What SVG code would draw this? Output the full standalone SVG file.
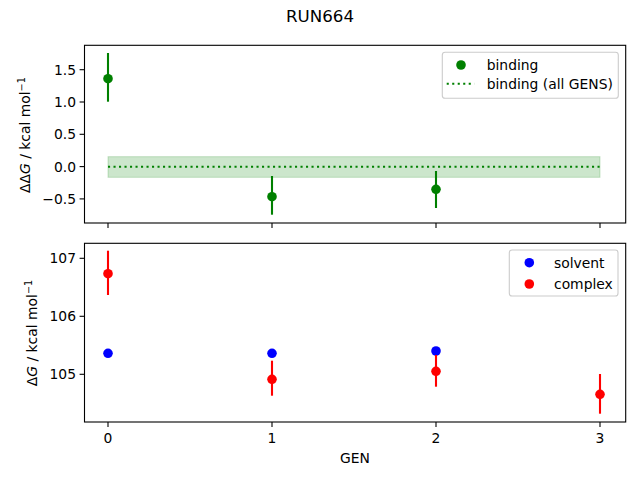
<svg xmlns="http://www.w3.org/2000/svg" width="640" height="480" viewBox="0 0 640 480">
<style>
text{font-family:"DejaVu Sans","Liberation Sans",sans-serif;font-size:13.89px;fill:#000}
.spine{fill:none;stroke:#000;stroke-width:1.1}
.tick{stroke:#000;stroke-width:1.1}
.yt{text-anchor:end}
.xt{text-anchor:middle}
.eg{stroke:#008000;stroke-width:2.1}
.er{stroke:#ff0000;stroke-width:2.1}
.leg{fill:#fff;fill-opacity:0.8;stroke:#cccccc;stroke-width:1.1}
circle{r:4.8px}
</style>
<rect width="640" height="480" fill="#fff"/>
<text x="320" y="22" text-anchor="middle" style="font-size:16.67px">RUN664</text>

<g id="top-axes">
  <rect x="108" y="156.7" width="492" height="20.6" fill="#008000" fill-opacity="0.2" stroke="#008000" stroke-opacity="0.2" stroke-width="1"/>
  <line x1="108" y1="166.7" x2="600" y2="166.7" stroke="#008000" stroke-width="2.1" stroke-dasharray="2.1,3.4"/>
  <g id="binding-points">
    <line class="eg" x1="108" y1="53" x2="108" y2="101.7"/>
    <circle cx="108" cy="78.7" r="4.8" fill="#008000"/>
    <line class="eg" x1="272" y1="176" x2="272" y2="214.7"/>
    <circle cx="272" cy="196.7" r="4.8" fill="#008000"/>
    <line class="eg" x1="436" y1="171" x2="436" y2="208"/>
    <circle cx="436" cy="189.3" r="4.8" fill="#008000"/>
  </g>
  <rect class="spine" x="84.5" y="45.3" width="541.2" height="177.7"/>
  <g class="tick">
    <line x1="84.5" y1="69.7" x2="79.6" y2="69.7"/>
    <line x1="84.5" y1="102" x2="79.6" y2="102"/>
    <line x1="84.5" y1="134.3" x2="79.6" y2="134.3"/>
    <line x1="84.5" y1="166.6" x2="79.6" y2="166.6"/>
    <line x1="84.5" y1="198.9" x2="79.6" y2="198.9"/>
    <line x1="108" y1="223" x2="108" y2="227.9"/>
    <line x1="272" y1="223" x2="272" y2="227.9"/>
    <line x1="436" y1="223" x2="436" y2="227.9"/>
    <line x1="600" y1="223" x2="600" y2="227.9"/>
  </g>
  <text class="yt" x="76" y="74.7">1.5</text>
  <text class="yt" x="76" y="107">1.0</text>
  <text class="yt" x="76" y="139.3">0.5</text>
  <text class="yt" x="76" y="171.6">0.0</text>
  <text class="yt" x="76" y="203.9">−0.5</text>
  <text transform="translate(30,135) rotate(-90)" text-anchor="middle">ΔΔ<tspan font-style="italic">G</tspan> / kcal mol<tspan dy="-5" style="font-size:9.7px">−1</tspan></text>
  <g id="top-legend">
    <rect class="leg" x="442.3" y="52.3" width="176" height="46" rx="2.8"/>
    <circle cx="461" cy="65" r="4.8" fill="#008000"/>
    <line x1="446.7" y1="83.7" x2="474.3" y2="83.7" stroke="#008000" stroke-width="2.1" stroke-dasharray="2.1,3.4"/>
    <text x="486.7" y="69.9">binding</text>
    <text x="486.7" y="88.7">binding (all GENS)</text>
  </g>
</g>

<g id="bottom-axes">
  <g id="solvent-points">
    <circle cx="108" cy="353.3" r="4.8" fill="#0000ff"/>
    <circle cx="272" cy="353.3" r="4.8" fill="#0000ff"/>
    <circle cx="436" cy="351" r="4.8" fill="#0000ff"/>
  </g>
  <g id="complex-points">
    <line class="er" x1="108" y1="250.7" x2="108" y2="295"/>
    <circle cx="108" cy="273.7" r="4.8" fill="#ff0000"/>
    <line class="er" x1="272" y1="360.7" x2="272" y2="395.7"/>
    <circle cx="272" cy="379.3" r="4.8" fill="#ff0000"/>
    <line class="er" x1="436" y1="355" x2="436" y2="386.7"/>
    <circle cx="436" cy="371.3" r="4.8" fill="#ff0000"/>
    <line class="er" x1="600" y1="374" x2="600" y2="413.7"/>
    <circle cx="600" cy="394.3" r="4.8" fill="#ff0000"/>
  </g>
  <rect class="spine" x="84.5" y="243.3" width="541.2" height="178.7"/>
  <g class="tick">
    <line x1="84.5" y1="258.3" x2="79.6" y2="258.3"/>
    <line x1="84.5" y1="316.3" x2="79.6" y2="316.3"/>
    <line x1="84.5" y1="374.3" x2="79.6" y2="374.3"/>
    <line x1="108" y1="422" x2="108" y2="426.9"/>
    <line x1="272" y1="422" x2="272" y2="426.9"/>
    <line x1="436" y1="422" x2="436" y2="426.9"/>
    <line x1="600" y1="422" x2="600" y2="426.9"/>
  </g>
  <text class="yt" x="76" y="263.3">107</text>
  <text class="yt" x="76" y="321.3">106</text>
  <text class="yt" x="76" y="379.3">105</text>
  <text class="xt" x="108" y="442.5">0</text>
  <text class="xt" x="272" y="442.5">1</text>
  <text class="xt" x="436" y="442.5">2</text>
  <text class="xt" x="600" y="442.5">3</text>
  <text class="xt" x="355" y="462.5">GEN</text>
  <text transform="translate(37,333) rotate(-90)" text-anchor="middle">Δ<tspan font-style="italic">G</tspan> / kcal mol<tspan dy="-5" style="font-size:9.7px">−1</tspan></text>
  <g id="bottom-legend">
    <rect class="leg" x="509.3" y="250" width="108.7" height="46" rx="2.8"/>
    <circle cx="529.3" cy="262.7" r="4.8" fill="#0000ff"/>
    <circle cx="529.3" cy="284" r="4.8" fill="#ff0000"/>
    <text x="554" y="267.5">solvent</text>
    <text x="554" y="288.8">complex</text>
  </g>
</g>
</svg>
